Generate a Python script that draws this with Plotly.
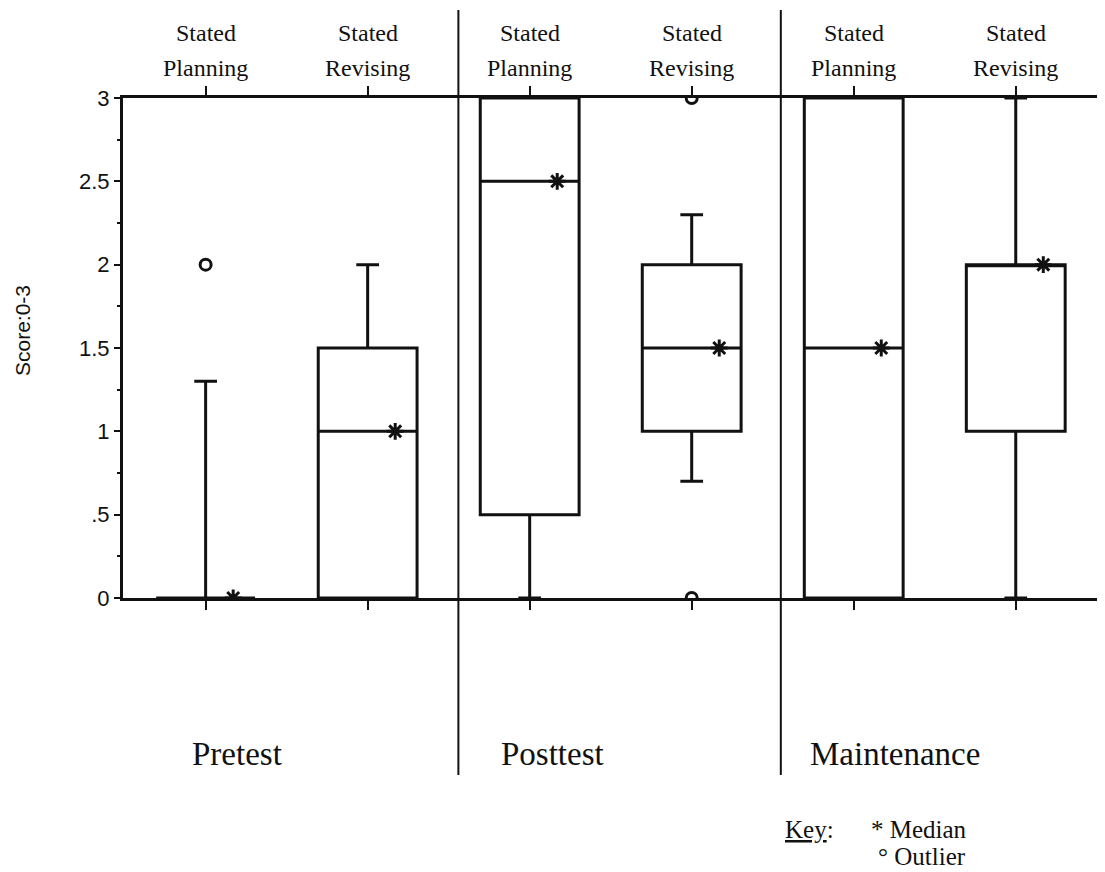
import plotly.graph_objects as go

# ---- data ----
groups = ["Pretest", "Posttest", "Maintenance"]
measures = ["Stated Planning", "Stated Revising"]
categories = [f"{g} {m}" for g in groups for m in measures]
q1 = [0, 0, 0.5, 1.0, 0, 1.0]
median = [0, 1.0, 2.5, 1.5, 1.5, 2.0]
q3 = [0, 1.5, 3.0, 2.0, 3.0, 2.0]
lower_whisker = [0, 0, 0, 0.7, 0, 0]
upper_whisker = [1.3, 2.0, 3.0, 2.3, 3.0, 3.0]
outlier_box = [0, 3, 3]          # index of the box each outlier belongs to
outlier_value = [2.0, 0.0, 3.0]
ytick_vals = [0, 0.5, 1, 1.5, 2, 2.5, 3]
ytick_text = ["0", ".5", "1", "1.5", "2", "2.5", "3"]
key_median = "* Median"
key_outlier = "° Outlier"

positions = list(range(len(categories)))
INK = "#111111"
SERIF = "Liberation Serif, Times New Roman, serif"
SANS = "Liberation Sans, Arial, sans-serif"

# page body has an 8px margin: size the figure so it fits the window
OFF = 8
W, H = 1105 - OFF, 872 - OFF
L, T = 123 - OFF, 98 - OFF
R = W - (1100 - OFF)
B = H - (598 - OFF)
PW, PH = W - L - R, H - T - B


def px_x(px):
    return (px - 123) / PW


def px_y(py):
    return (598 - py) / PH


fig = go.Figure()

fig.add_trace(go.Box(
    x=positions, q1=q1, median=median, q3=q3,
    lowerfence=lower_whisker, upperfence=upper_whisker,
    width=0.61, whiskerwidth=0.23, boxpoints=False,
    line=dict(color=INK, width=3), fillcolor="rgba(255,255,255,0)",
    hoverinfo="skip",
))

# median asterisks (slightly right of the box centre, as in the original)
fig.add_trace(go.Scatter(
    x=[p + 0.17 for p in positions], y=median, mode="markers",
    marker=dict(symbol="asterisk-open", size=14, color=INK,
                line=dict(color=INK, width=3)),
    hoverinfo="skip",
))

# outliers
fig.add_trace(go.Scatter(
    x=[positions[i] for i in outlier_box], y=outlier_value, mode="markers",
    marker=dict(symbol="circle-open", size=11, color=INK,
                line=dict(color=INK, width=3)),
    cliponaxis=True, hoverinfo="skip",
))

# top category labels (two lines each)
for p, m in zip(positions, [measures[i % 2] for i in positions]):
    w1, w2 = m.split(" ")
    for word, py in [(w1, 33), (w2, 68)]:
        fig.add_annotation(x=p, y=px_y(py), xref="x", yref="paper", text=word,
                           xanchor="center", yanchor="middle", showarrow=False,
                           font=dict(family=SERIF, size=24, color=INK))

# group dividers
for xd in [1.56, 3.55]:
    fig.add_shape(type="line", xref="x", yref="paper", x0=xd, x1=xd,
                  y0=px_y(10), y1=px_y(775), line=dict(color=INK, width=2))

# group labels
for g, gx in zip(groups, [237, 552, 895]):
    fig.add_annotation(x=px_x(gx), y=px_y(754), xref="paper", yref="paper", text=g,
                       xanchor="center", yanchor="middle", showarrow=False,
                       font=dict(family=SERIF, size=33, color=INK))

# y axis title
fig.add_annotation(x=px_x(22), y=px_y(331), xref="paper", yref="paper",
                   text="Score:0-3", textangle=-90, showarrow=False,
                   xanchor="center", yanchor="middle",
                   font=dict(family=SANS, size=21, color=INK))

# key
fig.add_annotation(x=px_x(783), y=px_y(829), xref="paper", yref="paper",
                   text="<u>Key</u>:", xanchor="left", yanchor="middle", showarrow=False,
                   font=dict(family=SERIF, size=25, color=INK))
fig.add_annotation(x=px_x(869), y=px_y(829), xref="paper", yref="paper",
                   text=key_median, xanchor="left", yanchor="middle", showarrow=False,
                   font=dict(family=SERIF, size=25, color=INK))
fig.add_annotation(x=px_x(876), y=px_y(856), xref="paper", yref="paper",
                   text=key_outlier, xanchor="left", yanchor="middle", showarrow=False,
                   font=dict(family=SERIF, size=25, color=INK))

fig.update_layout(
    width=W, height=H, margin=dict(l=L, r=R, t=T, b=B, autoexpand=False),
    paper_bgcolor="white", plot_bgcolor="white", showlegend=False,
    xaxis=dict(range=[-0.51, 5.52], tickvals=positions, showticklabels=False,
               ticks="outside", ticklen=9, tickwidth=2, tickcolor=INK,
               showline=True, linecolor=INK, linewidth=3, mirror="ticks",
               showgrid=False, zeroline=False, automargin=False),
    yaxis=dict(range=[0, 3], tickvals=ytick_vals, ticktext=ytick_text,
               ticks="outside", ticklen=6, tickwidth=2, tickcolor=INK,
               tickfont=dict(family=SANS, size=22, color=INK),
               minor=dict(dtick=0.25, ticks="outside", ticklen=3, tickwidth=1.5,
                          tickcolor=INK),
               showline=True, linecolor=INK, linewidth=3, mirror="ticks",
               showgrid=False, zeroline=False, automargin=False),
)

fig.write_html("out.html")
